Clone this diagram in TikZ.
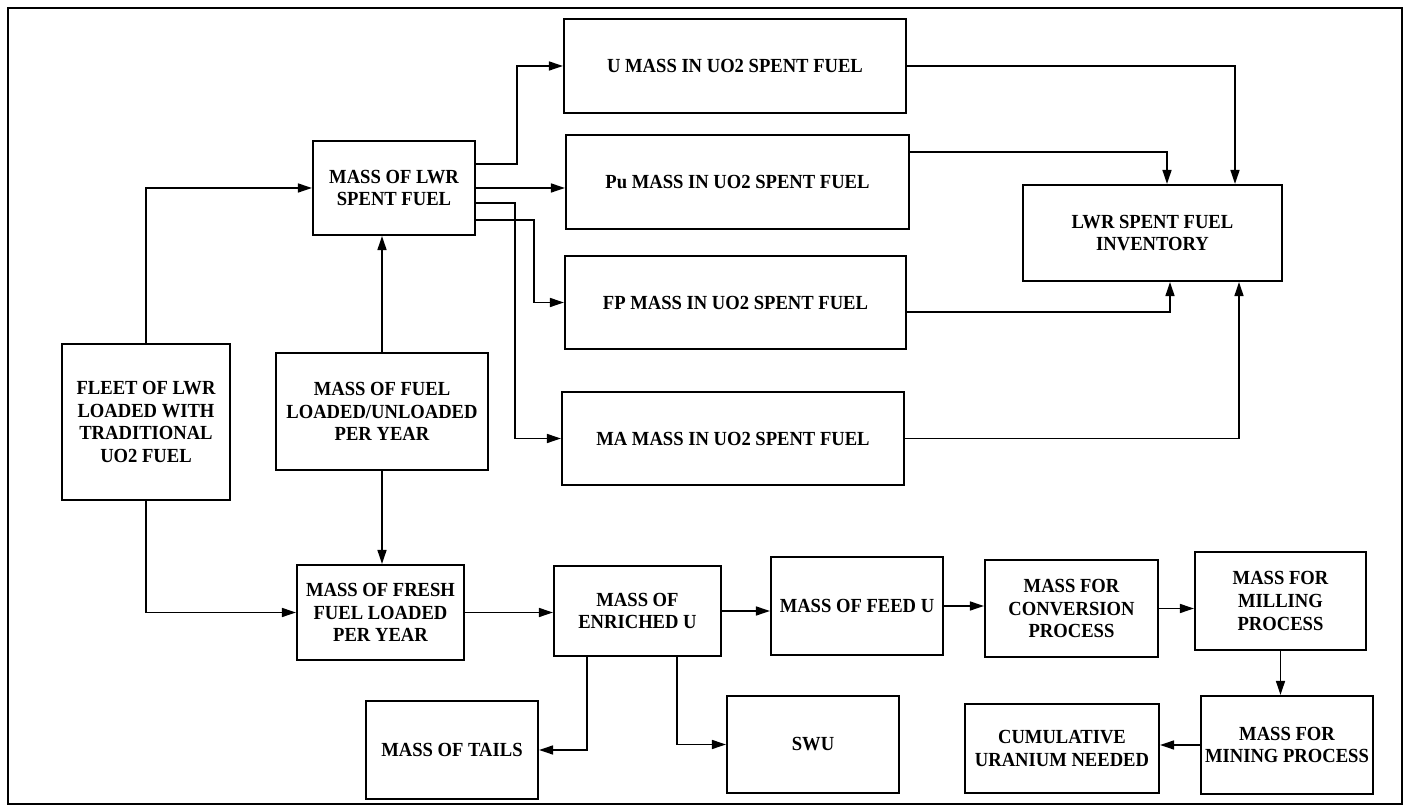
\documentclass[tikz,border=0pt]{standalone}
\usepackage{fontspec}
\setmainfont{Liberation Serif}[FakeStretch=0.93]
\usetikzlibrary{arrows.meta,calc}
\begin{document}
\begin{tikzpicture}[x=0.5pt,y=-0.5pt,
  box/.style={draw,line width=1.1pt,align=center,inner sep=0pt,
    font=\fontsize{10pt}{11.4pt}\selectfont\bfseries},
  sz/.style 2 args={minimum width=#1*0.5pt,minimum height=#2*0.5pt},
  arr/.style={line width=0.8pt,-{Triangle[length=7pt,width=4.5pt]}}]
\useasboundingbox (0,0) rectangle (1405,806);
\draw[line width=1.1pt] (8,8) rectangle (1402,804);
% nodes
\node[box,sz={162}{94}] (lwr) at (394,188) {MASS OF LWR\\SPENT FUEL};
\node[box,sz={342}{94}] (umass) at (735,66) {U MASS IN UO2 SPENT FUEL};
\node[box,sz={343}{94}] (pumass) at (737.5,182) {Pu MASS IN UO2 SPENT FUEL};
\node[box,sz={341}{93}] (fpmass) at (735.5,302.5) {FP MASS IN UO2 SPENT FUEL};
\node[box,sz={342}{93}] (mamass) at (733,438.5) {MA MASS IN UO2 SPENT FUEL};
\node[box,sz={259}{96}] (inv) at (1152.5,233) {LWR SPENT FUEL\\INVENTORY};
\node[box,sz={168}{156}] (fleet) at (146,422) {FLEET OF LWR\\LOADED WITH\\TRADITIONAL\\UO2 FUEL};
\node[box,sz={212}{117}] (fuel) at (382,411.5) {MASS OF FUEL\\LOADED/UNLOADED\\PER YEAR};
\node[box,sz={167}{95}] (fresh) at (380.5,612.5) {MASS OF FRESH\\FUEL LOADED\\PER YEAR};
\node[box,sz={167}{90}] (enr) at (637.5,611) {MASS OF\\ENRICHED U};
\node[box,sz={172}{98}] (feed) at (857,606) {MASS OF FEED U};
\node[box,sz={173}{97}] (conv) at (1071.5,608.5) {MASS FOR\\CONVERSION\\PROCESS};
\node[box,sz={171}{98}] (mill) at (1280.5,601) {MASS FOR\\MILLING\\PROCESS};
\node[box,sz={172}{98}] (mining) at (1287,745) {MASS FOR\\MINING PROCESS};
\node[box,sz={194}{89}] (cum) at (1062,748.5) {CUMULATIVE\\URANIUM NEEDED};
\node[box,sz={172}{97}] (swu) at (813,744.5) {SWU};
\node[box,sz={172}{98}] (tails) at (452,750) {MASS OF TAILS};
% connectors
\draw[arr] (fleet.north) |- (lwr.west);
\draw[arr] (fleet.south) |- (fresh.west);
\draw[arr] (fuel.north) -- (fuel.north |- lwr.south);
\draw[arr] (fuel.south) -- (fuel.south |- fresh.north);
\draw[arr] ($(lwr.east)+(0,-24)$) -- ++(41,0) |- (umass.west);
\draw[arr] (lwr.east) -- (lwr.east -| pumass.west);
\draw[arr] ($(lwr.east)+(0,15)$) -- ++(39,0) |- (mamass.west);
\draw[arr] ($(lwr.east)+(0,32)$) -- ++(58,0) |- (fpmass.west);
\draw[arr] (umass.east) -| ($(inv.north)+(82.5,0)$);
\draw[arr] ($(pumass.east)+(0,-30)$) -| ($(inv.north)+(14.5,0)$);
\draw[arr] ($(fpmass.east)+(0,9.5)$) -| ($(inv.south)+(17.5,0)$);
\draw[arr] (mamass.east) -| ($(inv.south)+(86.5,0)$);
\draw[arr] (fresh.east) -- (fresh.east -| enr.west);
\draw[arr] (enr.east) -- (enr.east -| feed.west);
\draw[arr] (feed.east) -- (feed.east -| conv.west);
\draw[arr] (conv.east) -- (conv.east -| mill.west);
\draw[arr] (mill.south) -- (mill.south |- mining.north);
\draw[arr] (mining.west) -- (mining.west -| cum.east);
\draw[arr] ($(enr.south)+(-50.5,0)$) |- (tails.east);
\draw[arr] ($(enr.south)+(39.5,0)$) |- (swu.west);
\end{tikzpicture}
\end{document}
